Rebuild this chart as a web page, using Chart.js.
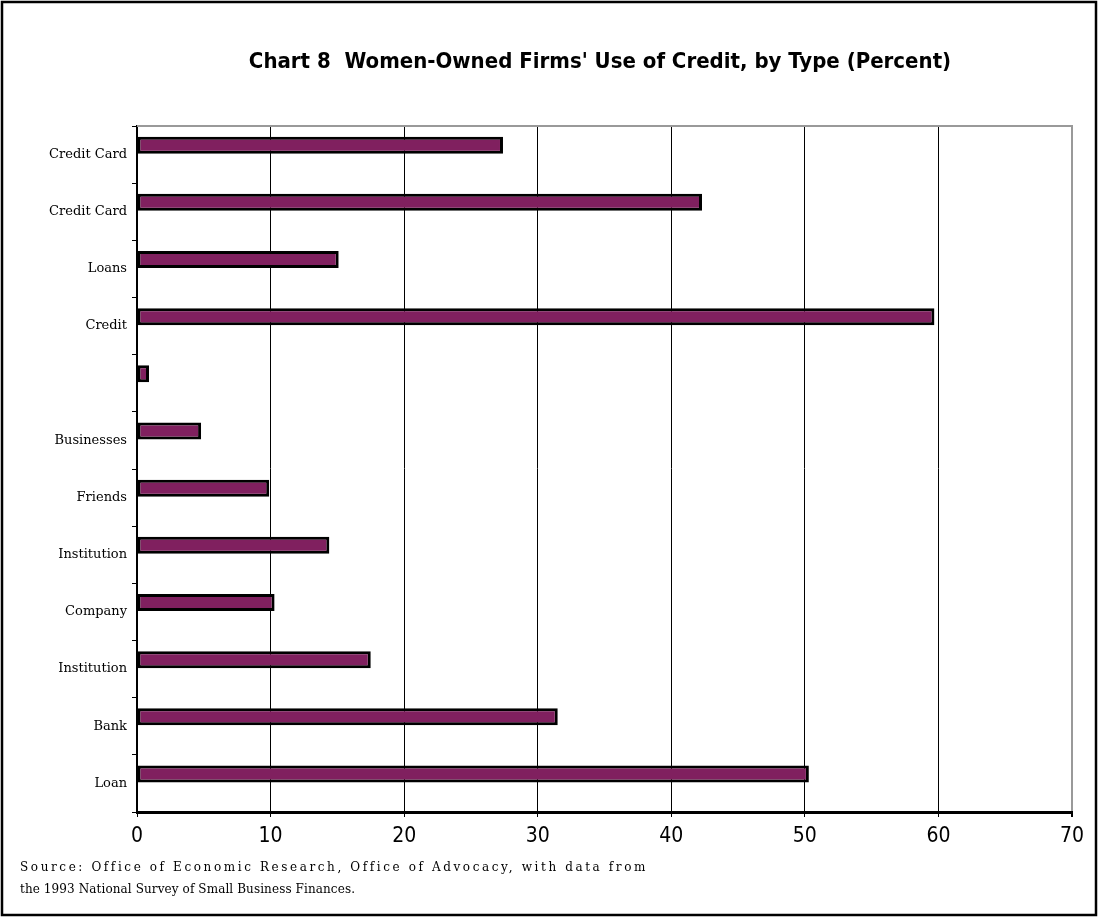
<!DOCTYPE html>
<html>
<head>
<meta charset="utf-8">
<script src="https://cdn.jsdelivr.net/npm/chart.js@4/dist/chart.umd.min.js"></script>
<style>
  body { margin: 0; background: #fff; }
  #wrap { position: relative; width: 1098px; height: 922px; }
  .src { position: absolute; left: 20px; font: 12px "DejaVu Serif", serif; color: #000; white-space: nowrap; }
</style>
</head>
<body>
<div id="wrap">
  <canvas id="credit" width="1098" height="922"></canvas>
  <div class="src" style="top:860px; letter-spacing:2.6px">Source: Office of Economic Research, Office of Advocacy, with data from</div>
  <div class="src" style="top:882px; letter-spacing:0.1px">the 1993 National Survey of Small Business Finances.</div>
</div>
<script>
//------------------------------------------------------------------------------
var labels = ["Credit Card", "Credit Card", "Loans", "Credit", "", "Businesses",
              "Friends", "Institution", "Company", "Institution", "Bank", "Loan"];
var values = [27.4, 42.3, 15.1, 59.7, 0.9, 4.8, 9.9, 14.4, 10.3, 17.5, 31.5, 50.3];
var blank  = [null, null, null, null, null, null, null, null, null, null, null, null];
var xTicks = [0, 10, 20, 30, 40, 50, 60, 70];
var title  = "Chart 8  Women-Owned Firms' Use of Credit, by Type (Percent)";

var plum = "#80205f";
var narrow = "'Liberation Sans Narrow', 'DejaVu Sans Condensed', sans-serif";

//------------------------------------------------------------------------------
// frame, title and the grey top edge of the plot
var decor = {
  id: 'decor',
  afterDraw: function(chart) {
    var c = chart.ctx, a = chart.chartArea;
    c.save();
    c.strokeStyle = "#000"; c.lineWidth = 2.5;
    c.strokeRect(2, 2, 1094, 913);
    c.strokeStyle = "#999"; c.lineWidth = 2;
    c.beginPath(); c.moveTo(a.left, a.top); c.lineTo(a.right + 1, a.top); c.stroke();
    c.fillStyle = "#000";
    c.font = "bold 22px " + narrow;
    c.textAlign = "center"; c.textBaseline = "middle";
    c.fillText(title, 600, 62);
    c.restore();
  }
};

window.onload = function() {
  var ctx = document.getElementById("credit");
  var chart = new Chart(ctx, {
    type: 'bar',
    data: {
      labels: labels,
      datasets: [{
        data: values,
        backgroundColor: plum,
        borderColor: "#000",
        borderWidth: 3,
        borderSkipped: false
      }, {
        data: blank,
        backgroundColor: plum
      }]
    },
    options: {
      indexAxis: 'y',
      responsive: false,
      animation: false,
      categoryPercentage: 0.66,
      barPercentage: 0.9,
      layout: { padding: { top: 126, right: 26, left: 0, bottom: 0 } },
      plugins: { legend: { display: false }, tooltip: { enabled: false } },
      scales: {
        x: {
          min: 0, max: 70,
          afterBuildTicks: function(s) { s.ticks = xTicks.map(function(v) { return { value: v }; }); },
          afterFit: function(s) { s.height = 110; },
          grid: {
            color: function(c) { return c.tick && c.tick.value === 70 ? "#999" : "#000"; },
            lineWidth: function(c) { return c.tick && c.tick.value === 70 ? 2 : 1; },
            tickColor: "#000",
            tickLength: 5
          },
          border: { display: true, color: "#000", width: 3 },
          ticks: { color: "#000", padding: 7, font: { family: narrow, size: 21 } }
        },
        y: {
          afterFit: function(s) { s.width = 137; },
          grid: { drawOnChartArea: false, color: "#000", tickLength: 5, offset: true },
          border: { display: true, color: "#000", width: 2 },
          ticks: { color: "#000", padding: 5, font: { family: "'DejaVu Serif', serif", size: 13 } }
        }
      }
    },
    plugins: [decor]
  });
};
//------------------------------------------------------------------------------
</script>
</body>
</html>
